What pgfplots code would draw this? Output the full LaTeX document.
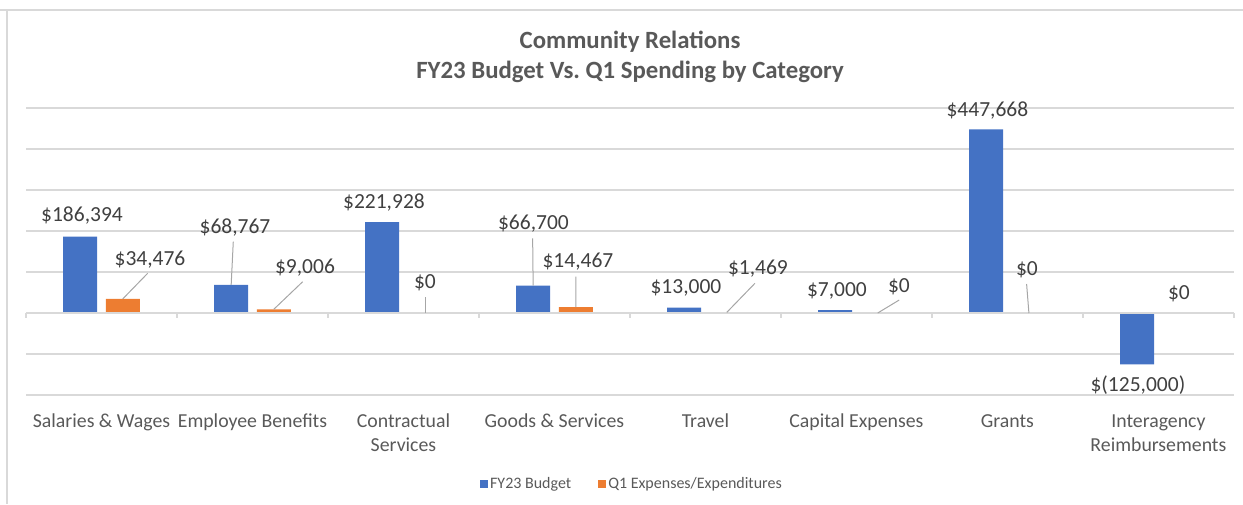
\documentclass[border=0pt]{standalone}
\usepackage{pgfplots}
\pgfplotsset{compat=1.18}
\usepackage{fontspec}
\setmainfont{Carlito}
\frenchspacing
\definecolor{bblue}{HTML}{4472C4}
\definecolor{borange}{HTML}{ED7D31}
\definecolor{gridc}{HTML}{D9D9D9}
\definecolor{txt}{HTML}{595959}
\definecolor{lbl}{HTML}{404040}
\definecolor{lead}{HTML}{A6A6A6}
\newcommand{\dlab}[5]{\node[text=lbl, font=\fontsize{21.5}{24}\selectfont, inner sep=0pt, text height=13.6pt, text depth=0pt] at ([xshift=#3pt, yshift=#4pt]axis cs:#1,#2) {#5};}
\newcommand{\lead}[6]{\draw[lead, line width=1pt] ([xshift=#3pt]axis cs:#1,#2) -- ([xshift=#4pt, yshift=#5pt]axis cs:#1,#2);}
\begin{document}
\begin{tikzpicture}[x=1pt,y=1pt]
\path[use as bounding box] (-26,-109) rectangle (1217,395);
\draw[gridc, line width=1.5pt] (-26,385) -- (1217,385);
\draw[gridc, line width=1.5pt] (-19,385) -- (-19,-109);
\node[text=txt, font=\bfseries\fontsize{24.8}{28}\selectfont, anchor=base] at (604,346) {Community Relations};
\node[text=txt, font=\bfseries\fontsize{24.8}{28}\selectfont, anchor=base] at (604,316) {FY23 Budget Vs. Q1 Spending by Category};
\begin{axis}[
  at={(0,0)}, anchor=south west,
  scale only axis, width=1208pt, height=287pt,
  xmin=-0.5, xmax=7.5, ymin=-200000, ymax=500000,
  xtick={0,1,2,3,4,5,6,7},
  xticklabels={Salaries \& Wages, Employee Benefits, {Contractual\\Services}, Goods \& Services, Travel, Capital Expenses, Grants, {Interagency\\Reimbursements}},
  typeset ticklabels with strut,
  xticklabel style={align=center, font=\fontsize{19.8}{24}\selectfont, text=txt, inner sep=0pt, anchor=north, yshift=-15.2pt},
  ytick={-200000,-100000,0,100000,200000,300000,400000,500000},
  yticklabels={}, scaled y ticks=false,
  ymajorgrids, grid style={gridc, line width=1.3pt},
  axis x line*=bottom, axis y line*=left,
  x axis line style={draw=none}, y axis line style={draw=none},
  tick style={draw=none},
  clip=false,
  legend style={at={(0.5017,-0.310)}, anchor=center, draw=none, fill=none, legend columns=2,
     font=\fontsize{16}{19}\selectfont, text=txt,
     /tikz/every even column/.append style={column sep=25pt},
     nodes={inner sep=2pt}},
  legend image code/.code={\fill[#1] (0pt,-4pt) rectangle (8pt,4pt);},
]
\addplot[ybar, bar width=34pt, bar shift=-21.3pt, fill=bblue, draw=none] coordinates {(0,186394) (1,68767) (2,221928) (3,66700) (4,13000) (5,7000) (6,447668) (7,-125000)};
\addlegendentry{FY23 Budget}
\addplot[ybar, bar width=34pt, bar shift=21.3pt, fill=borange, draw=none] coordinates {(0,34476) (1,9006) (2,0) (3,14467) (4,1469) (5,0) (6,0) (7,0)};
\addlegendentry{Q1 Expenses/Expenditures}
\draw[gridc, line width=1.3pt] (axis cs:-0.5,0) -- (axis cs:7.5,0);
\pgfplotsinvokeforeach{-0.5,0.5,1.5,2.5,3.5,4.5,5.5,6.5,7.5}{\draw[gridc, line width=1.3pt] (axis cs:#1,0) -- ([yshift=-5pt]axis cs:#1,0);}
\dlab{0}{186394}{-19.5}{21.6}{\$186,394}
\dlab{0}{34476}{48.5}{39.9}{\$34,476}
\lead{0}{34476}{21.3}{46.2}{25.6}{}
\dlab{1}{68767}{-17.5}{58.1}{\$68,767}
\lead{1}{68767}{-21.3}{-19.2}{43.1}{}
\dlab{1}{9006}{52.5}{42.3}{\$9,006}
\lead{1}{9006}{21.3}{50.2}{27.6}{}
\dlab{2}{221928}{-19.5}{20}{\$221,928}
\dlab{2}{0}{21.5}{31.3}{\$0}
\lead{2}{0}{22.5}{22.5}{16.3}{}
\dlab{3}{66700}{-21}{63}{\$66,700}
\lead{3}{66700}{-21.3}{-21.8}{47.4}{}
\dlab{3}{14467}{23.5}{46.4}{\$14,467}
\lead{3}{14467}{21.3}{21.5}{30.4}{}
\dlab{4}{13000}{-19.5}{21}{\$13,000}
\dlab{4}{1469}{52.5}{45.1}{\$1,469}
\lead{4}{1469}{21.3}{49.5}{29.1}{}
\dlab{5}{7000}{-19.5}{20.1}{\$7,000}
\dlab{5}{0}{42.5}{27.3}{\$0}
\lead{5}{0}{21.3}{42.8}{13}{}
\dlab{6}{447668}{-20}{20.2}{\$447,668}
\dlab{6}{0}{19.5}{44}{\$0}
\lead{6}{0}{21.5}{19.2}{29}{}
\dlab{7}{0}{20.5}{20.7}{\$0}
\dlab{7}{-125000}{-20.5}{-20.7}{\$(125,000)}
\end{axis}
\end{tikzpicture}
\end{document}
